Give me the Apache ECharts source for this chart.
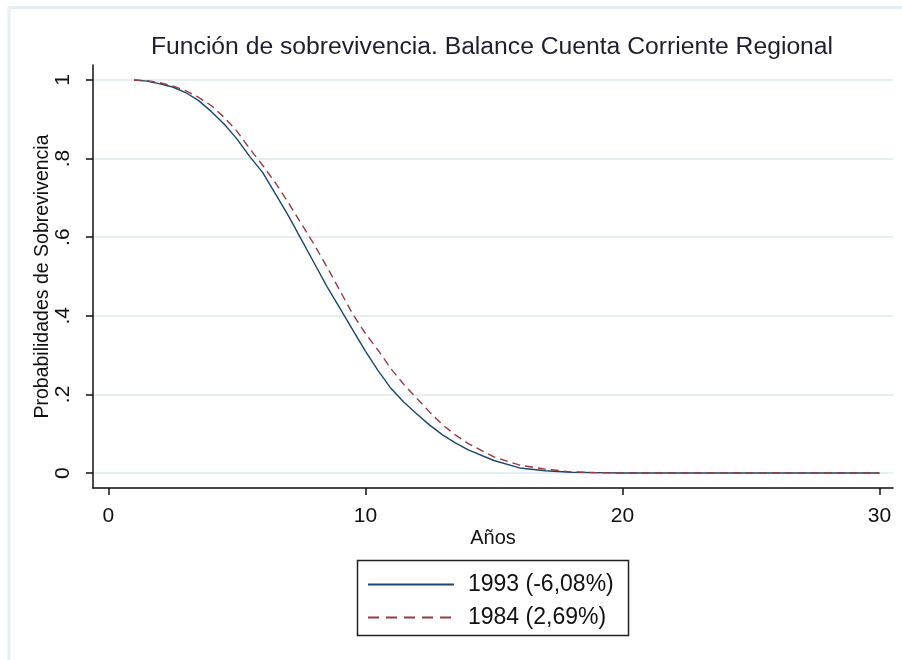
<!DOCTYPE html>
<html>
<head>
<meta charset="utf-8">
<script src="https://cdn.jsdelivr.net/npm/echarts@6/dist/echarts.min.js"></script>
<style>
html,body{margin:0;padding:0;background:#fff;}
#chart{width:902px;height:660px;}
</style>
</head>
<body>
<div id="chart"></div>
<script>
// ---- data ----
const title = 'Función de sobrevivencia. Balance Cuenta Corriente Regional';
const yAxisName = 'Probabilidades de Sobrevivencia';
const xAxisName = 'Años';
const seriesNames = ['1993 (-6,08%)', '1984 (2,69%)'];

const xTicks = [0, 10, 20, 30];
const yTicks = [0, 0.2, 0.4, 0.6, 0.8, 1];

const t1993 = [1, 1.5, 2, 2.5, 3, 3.5, 4, 4.5, 5, 5.5, 6, 6.5, 7, 7.5, 8, 8.5, 9, 9.5, 10, 10.5, 11, 11.5, 12, 12.5, 13, 13.5, 14, 15, 16, 17, 18, 19, 20, 25, 30];
const s1993 = [1.0, 0.997, 0.99, 0.982, 0.968, 0.948, 0.92, 0.888, 0.85, 0.805, 0.765, 0.71, 0.655, 0.595, 0.535, 0.475, 0.42, 0.365, 0.31, 0.26, 0.215, 0.18, 0.15, 0.122, 0.097, 0.077, 0.059, 0.032, 0.013, 0.006, 0.002, 0.001, 0, 0, 0];

const t1984 = [1, 1.5, 2, 2.5, 3, 3.5, 4, 4.5, 5, 5.5, 6, 6.5, 7, 7.5, 8, 8.5, 9, 9.5, 10, 10.5, 11, 11.5, 12, 12.5, 13, 13.5, 14, 15, 16, 17, 18, 19, 20, 25, 30];
const s1984 = [1.0, 0.998, 0.993, 0.985, 0.973, 0.956, 0.935, 0.905, 0.87, 0.825, 0.783, 0.738, 0.688, 0.635, 0.582, 0.525, 0.465, 0.405, 0.355, 0.312, 0.265, 0.225, 0.19, 0.155, 0.123, 0.097, 0.075, 0.041, 0.02, 0.01, 0.003, 0.001, 0, 0, 0];

const pairs = (xs, ys) => xs.map((x, i) => [x, ys[i]]);

const FONT = 'Liberation Sans, Arial, sans-serif';
const chart = echarts.init(document.getElementById('chart'), null, {renderer: 'canvas'});

const option = {
  backgroundColor: '#ffffff',
  animation: false,
  title: {
    text: title,
    left: 151,
    top: 35,
    padding: 0,
    textStyle: {fontFamily: FONT, fontSize: 24.7, fontWeight: 'normal', color: '#1e1e30'}
  },
  grid: {left: 93, right: 9, top: 65, bottom: 172, containLabel: false},
  xAxis: {
    type: 'value',
    min: -0.6,
    max: 30.53,
    name: xAxisName,
    nameLocation: 'middle',
    nameGap: 40,
    nameMoveOverlap: false,
    nameTextStyle: {fontFamily: FONT, fontSize: 20, color: '#111'},
    axisLine: {show: true, onZero: false, lineStyle: {color: '#111', width: 1.5}},
    axisTick: {show: true, length: 7, customValues: xTicks, lineStyle: {color: '#111', width: 1.5}},
    axisLabel: {customValues: xTicks, margin: 18, fontFamily: FONT, fontSize: 21, color: '#111'},
    splitLine: {show: false}
  },
  yAxis: {
    type: 'value',
    min: -0.038,
    max: 1.038,
    name: yAxisName,
    nameLocation: 'middle',
    nameGap: 40,
    nameMoveOverlap: false,
    nameRotate: 90,
    nameTextStyle: {fontFamily: FONT, fontSize: 19.5, color: '#111'},
    axisLine: {show: true, onZero: false, lineStyle: {color: '#111', width: 1.5}},
    axisTick: {show: true, length: 7, customValues: yTicks, lineStyle: {color: '#111', width: 1.5}},
    axisLabel: {
      customValues: yTicks,
      rotate: 90,
      margin: 19,
      fontFamily: FONT, fontSize: 21, color: '#111',
      formatter: v => (v === 0 ? '0' : v === 1 ? '1' : String(+v.toFixed(1)).replace(/^0\./, '.'))
    },
    splitLine: {show: true, lineStyle: {color: '#e6eff2', width: 2}}
  },
  legend: {
    orient: 'vertical',
    left: 357,
    top: 560,
    padding: [13, 11, 12, 10],
    itemGap: 10,
    itemWidth: 86,
    itemHeight: 20,
    itemStyle: {opacity: 0},
    textStyle: {fontFamily: FONT, fontSize: 23, color: '#111', padding: [0, 0, 0, 9]},
    data: [
      {name: seriesNames[0], itemStyle: {opacity: 0}},
      {name: seriesNames[1], itemStyle: {opacity: 0}, lineStyle: {type: [11, 7]}}
    ]
  },
  graphic: [
    {type: 'rect', silent: true, z: -10, shape: {x: 9, y: 7.5, width: 2000, height: 2000}, style: {fill: 'none', stroke: '#e6eff1', lineWidth: 3}},
    {type: 'rect', silent: true, z: 10, shape: {x: 357.5, y: 560.5, width: 271, height: 75}, style: {fill: 'none', stroke: '#222', lineWidth: 1.5}}
  ],
  series: [
    {
      name: seriesNames[0],
      type: 'line',
      data: pairs(t1993, s1993),
      showSymbol: false,
      symbol: 'none',
      smooth: false,
      lineStyle: {color: '#1a476f', width: 1.4, type: 'solid'},
      itemStyle: {color: '#1a476f'},
      z: 2
    },
    {
      name: seriesNames[1],
      type: 'line',
      data: pairs(t1984, s1984),
      showSymbol: false,
      symbol: 'none',
      smooth: false,
      lineStyle: {color: '#983a42', width: 1.4, type: [8, 5]},
      itemStyle: {color: '#983a42'},
      z: 3
    }
  ]
};
chart.setOption(option);
</script>
</body>
</html>
